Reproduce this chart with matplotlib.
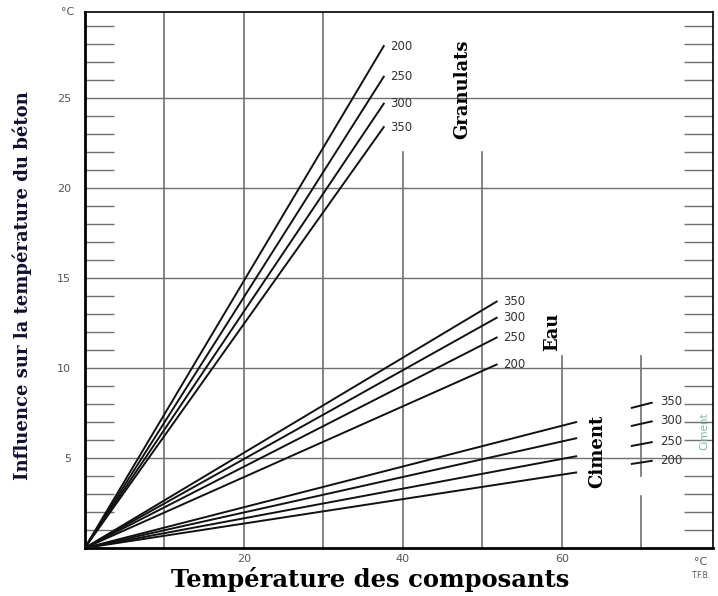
import matplotlib
matplotlib.use("Agg")
import matplotlib.pyplot as plt
import numpy as np

# Data
dosages = ["200", "250", "300", "350"]
granulats_end_x = 37.6
granulats_end_y = [27.9, 26.2, 24.7, 23.4]
eau_end_x = 51.8
eau_end_y = [10.2, 11.7, 12.8, 13.7]
ciment_end_x = 61.8
ciment_end_y = [4.2, 5.1, 6.1, 7.0]
x_ticks = [20, 40, 60]
y_ticks = [5, 10, 15, 20, 25]

fig = plt.figure(figsize=(7.18, 5.96), dpi=100)
ax = fig.add_axes([0.118, 0.0805, 0.875, 0.8995])
ax.set_xlim(0, 79)
ax.set_ylim(0, 29.8)

gc = "#707070"
# horizontal gridlines
for y in y_ticks:
    ax.axhline(y, color=gc, lw=1.0, zorder=1)
# vertical gridlines
for x in [10, 20, 30]:
    ax.axvline(x, color=gc, lw=1.2, zorder=1)
for x in [40, 50]:
    ax.plot([x, x], [0, 22], color=gc, lw=1.2, zorder=1)
ax.plot([60, 60], [0, 10.7], color=gc, lw=1.2, zorder=1)
ax.plot([70, 70], [4.0, 10.7], color=gc, lw=1.2, zorder=1)
ax.plot([70, 70], [0, 2.9], color=gc, lw=1.2, zorder=1)

# minor inward ticks on left & right
ax.set_yticks(y_ticks)
ax.set_yticks(np.arange(1, 30), minor=True)
ax.tick_params(axis="y", which="minor", direction="in", length=21, width=1.0,
               color=gc, left=True, right=True)
ax.tick_params(axis="y", which="major", length=0, labelsize=8, labelcolor="#555555", pad=10)
ax.set_xticks(x_ticks)
ax.tick_params(axis="x", which="major", length=0, labelsize=8, labelcolor="#555555", pad=4)

for s in ["left", "bottom"]:
    ax.spines[s].set_linewidth(2.0)
for s in ["top", "right"]:
    ax.spines[s].set_linewidth(1.2)

lc = "#111111"
for yv, lab in zip(granulats_end_y, dosages):
    ax.plot([0, granulats_end_x], [0, yv], color=lc, lw=1.4, zorder=3)
    ax.text(granulats_end_x + 0.8, yv, lab, fontsize=8.5, color="#333333", va="center", ha="left")
for yv, lab in zip(eau_end_y, dosages):
    ax.plot([0, eau_end_x], [0, yv], color=lc, lw=1.4, zorder=3)
    ax.text(eau_end_x + 0.8, yv, lab, fontsize=8.5, color="#333333", va="center", ha="left")
for yv, lab in zip(ciment_end_y, dosages):
    ax.plot([0, ciment_end_x], [0, yv], color=lc, lw=1.4, zorder=3)
    slope = yv / ciment_end_x
    xs = np.array([68.8, 71.3])
    ax.plot(xs, slope * xs, color=lc, lw=1.4, zorder=3)
    ax.text(72.3, slope * 71.8, lab, fontsize=8.5, color="#333333", va="center", ha="left")

serif = "DejaVu Serif"
ax.text(47.5, 25.5, "Granulats", rotation=90, fontsize=13, fontweight="bold",
        family=serif, ha="center", va="center")
ax.text(58.8, 12.0, "Eau", rotation=90, fontsize=13, fontweight="bold",
        family=serif, ha="center", va="center")
ax.text(64.5, 5.4, "Ciment", rotation=90, fontsize=13, fontweight="bold",
        family=serif, ha="center", va="center")
ax.text(77.9, 6.5, "Ciment", rotation=90, fontsize=7.5, color="#7fb89a",
        ha="center", va="center")

ax.text(-1.3, 29.8, "°C", fontsize=8, color="#555555", ha="right", va="center")
ax.text(77.5, -0.5, "°C", fontsize=8, color="#555555", ha="center", va="top")
ax.text(77.5, -1.25, "T.F.B.", fontsize=5.5, color="#555555", ha="center", va="top")

fig.text(0.515, 0.027, "Température des composants", fontsize=17.5, fontweight="bold",
         family=serif, ha="center", va="center")
fig.text(0.031, 0.52, "Influence sur la température du béton", fontsize=13, fontweight="bold",
         family=serif, color="#101030", ha="center", va="center", rotation=90)

fig.savefig("out.png", dpi=100)
